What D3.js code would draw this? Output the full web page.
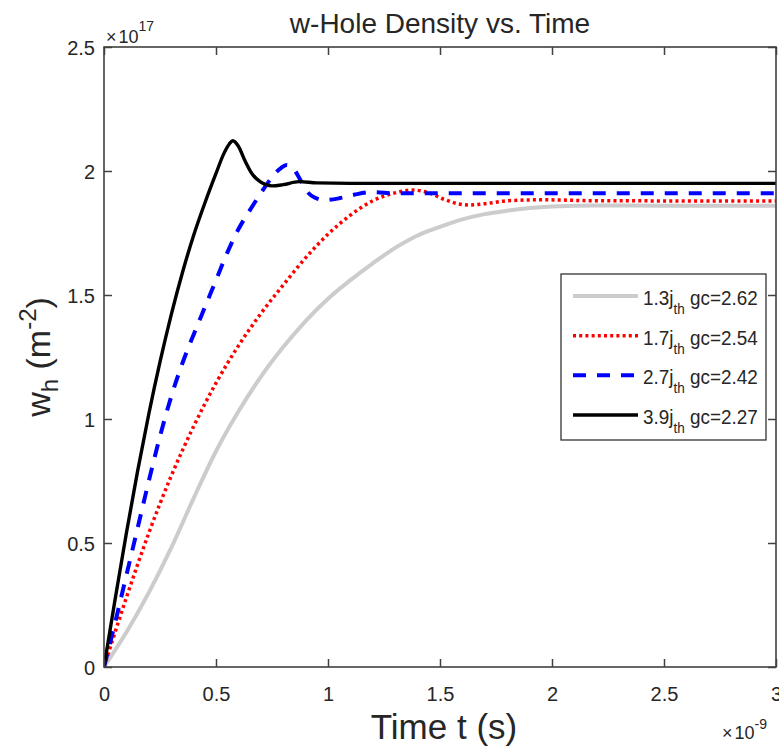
<!DOCTYPE html>
<html>
<head>
<meta charset="utf-8">
<script src="https://cdn.jsdelivr.net/npm/d3@7"></script>
<style>
  html, body { margin: 0; padding: 0; background: #fff; }
  svg { display: block; font-family: "Liberation Sans", Arial, Helvetica, sans-serif; }
</style>
</head>
<body>
<svg id="chart" width="779" height="752"></svg>
<script>
// ---- data (time in 1e-9 s, density in 1e17 m^-2) ----
const tGray = [0, 0.1, 0.2, 0.3, 0.4, 0.5, 0.6, 0.7, 0.8, 0.9, 1.0, 1.1, 1.2, 1.3, 1.4, 1.5, 1.6, 1.7, 1.8, 1.9, 2.0, 2.2, 2.5, 3];
const vGray = [0, 0.14, 0.3, 0.48, 0.68, 0.87, 1.03, 1.17, 1.29, 1.395, 1.485, 1.56, 1.628, 1.69, 1.74, 1.775, 1.805, 1.826, 1.84, 1.851, 1.857, 1.861, 1.86, 1.86];

const tRed = [0, 0.1, 0.2, 0.3, 0.4, 0.5, 0.6, 0.7, 0.8, 0.9, 1.0, 1.1, 1.2, 1.3, 1.38, 1.45, 1.52, 1.58, 1.63, 1.7, 1.8, 1.95, 2.2, 3];
const vRed = [0, 0.28, 0.54, 0.77, 0.97, 1.145, 1.295, 1.425, 1.54, 1.65, 1.745, 1.822, 1.88, 1.912, 1.923, 1.912, 1.885, 1.868, 1.863, 1.868, 1.88, 1.884, 1.88, 1.879];

const tBlue = [0, 0.05, 0.1, 0.15, 0.2, 0.25, 0.3, 0.35, 0.4, 0.45, 0.5, 0.55, 0.6, 0.65, 0.7, 0.75, 0.79, 0.815, 0.84, 0.87, 0.9, 0.94, 0.985, 1.05, 1.12, 1.2, 1.3, 1.6, 3];
const vBlue = [0, 0.18, 0.37, 0.56, 0.75, 0.93, 1.09, 1.225, 1.34, 1.45, 1.56, 1.67, 1.765, 1.84, 1.91, 1.975, 2.012, 2.024, 2.015, 1.975, 1.925, 1.893, 1.883, 1.89, 1.905, 1.915, 1.91, 1.91, 1.91];

const tBlack = [0, 0.05, 0.1, 0.15, 0.2, 0.25, 0.3, 0.35, 0.4, 0.45, 0.5, 0.535, 0.56, 0.575, 0.6, 0.63, 0.66, 0.7, 0.75, 0.8, 0.87, 0.95, 1.1, 1.5, 3];
const vBlack = [0, 0.275, 0.54, 0.79, 1.02, 1.23, 1.42, 1.59, 1.74, 1.87, 1.99, 2.07, 2.11, 2.122, 2.1, 2.04, 1.99, 1.955, 1.94, 1.945, 1.957, 1.952, 1.95, 1.95, 1.95];

const xTicks = [0, 0.5, 1, 1.5, 2, 2.5, 3];
const yTicks = [0, 0.5, 1, 1.5, 2, 2.5];

const legendMult = ["1.3", "1.7", "2.7", "3.9"];
const legendGc = ["2.62", "2.54", "2.42", "2.27"];

const titleText = "w-Hole Density vs. Time";
const xLabelText = "Time t (s)";

// ---- layout ----
const svg = d3.select("#chart");
const L = 104, T = 47, W = 672, H = 620;
const x = d3.scaleLinear().domain([0, 3]).range([L, L + W]);
const y = d3.scaleLinear().domain([0, 2.5]).range([T + H, T]);
const axisColor = "#404040", textColor = "#262626";

const series = [
  {t: tGray, v: vGray, color: "#cccccc", width: 4, dash: null},
  {t: tRed, v: vRed, color: "#ff0000", width: 3.5, dash: "3,3.2"},
  {t: tBlue, v: vBlue, color: "#0000ff", width: 4, dash: "13,11"},
  {t: tBlack, v: vBlack, color: "#000000", width: 3.4, dash: null}
];

svg.append("defs").append("clipPath").attr("id", "clip")
  .append("rect").attr("x", L).attr("y", T).attr("width", W).attr("height", H);

const line = d3.line().x(d => x(d[0])).y(d => y(d[1])).curve(d3.curveMonotoneX);
const gLines = svg.append("g").attr("clip-path", "url(#clip)");
series.forEach(s => {
  gLines.append("path")
    .attr("d", line(s.t.map((t, i) => [t, s.v[i]])))
    .attr("fill", "none").attr("stroke", s.color).attr("stroke-width", s.width)
    .attr("stroke-dasharray", s.dash).attr("stroke-linejoin", "round");
});

// ---- axes ----
const tick = 8;
const gx = svg.append("g").attr("transform", `translate(0,${T + H})`)
  .call(d3.axisBottom(x).tickValues(xTicks).tickFormat(d => String(d)).tickSizeInner(-tick).tickSizeOuter(0));
gx.selectAll("text").attr("y", 34).attr("dy", null).attr("font-size", 20).attr("fill", textColor).attr("font-family", null);
const gxt = svg.append("g").attr("transform", `translate(0,${T})`)
  .call(d3.axisTop(x).tickValues(xTicks).tickFormat("").tickSizeInner(-tick).tickSizeOuter(0));
const gy = svg.append("g").attr("transform", `translate(${L},0)`)
  .call(d3.axisLeft(y).tickValues(yTicks).tickFormat(d => String(d)).tickSizeInner(-tick).tickSizeOuter(0));
gy.selectAll("text").attr("x", -9).attr("dy", "0.36em").attr("font-size", 20).attr("fill", textColor).attr("font-family", null);
const gyr = svg.append("g").attr("transform", `translate(${L + W},0)`)
  .call(d3.axisRight(y).tickValues(yTicks).tickFormat("").tickSizeInner(-tick).tickSizeOuter(0));
[gx, gxt, gy, gyr].forEach(g => {
  g.select(".domain").remove();
  g.selectAll(".tick line").attr("stroke", axisColor).attr("stroke-width", 1.5);
});
svg.append("rect").attr("x", L).attr("y", T).attr("width", W).attr("height", H)
  .attr("fill", "none").attr("stroke", axisColor).attr("stroke-width", 1.6);

// exponent labels
const e1 = svg.append("text").attr("x", 106).attr("y", 43).attr("fill", textColor).attr("font-size", 18);
e1.append("tspan").text("\u00d7");
e1.append("tspan").attr("dx", 2).text("10");
e1.append("tspan").attr("dy", -12).attr("font-size", 14).text("17");
const e2 = svg.append("text").attr("x", 722).attr("y", 739).attr("fill", textColor).attr("font-size", 18);
e2.append("tspan").text("\u00d7");
e2.append("tspan").attr("dx", 2).text("10");
e2.append("tspan").attr("dy", -10).attr("font-size", 14).text("-9");

// title
svg.append("text").attr("x", L + W / 2).attr("y", 33).attr("text-anchor", "middle")
  .attr("font-size", 28).attr("fill", textColor).text(titleText);

// x label
svg.append("text").attr("x", L + W / 2 + 4).attr("y", 739).attr("text-anchor", "middle")
  .attr("font-size", 35).attr("fill", textColor).text(xLabelText);

// y label
const yl = svg.append("text").attr("transform", `translate(50,${T + H / 2}) rotate(-90)`)
  .attr("text-anchor", "middle").attr("font-size", 34).attr("fill", textColor);
yl.append("tspan").text("w");
yl.append("tspan").attr("dy", 8).attr("font-size", 24).text("h");
yl.append("tspan").attr("dy", -8).text(" (m");
yl.append("tspan").attr("dy", -14).attr("font-size", 24).text("-2");
yl.append("tspan").attr("dy", 14).text(")");

// ---- legend ----
const lgX = 561, lgY = 274, lgW = 205, lgH = 166;
svg.append("rect").attr("x", lgX).attr("y", lgY).attr("width", lgW).attr("height", lgH)
  .attr("fill", "#fff").attr("stroke", "#333").attr("stroke-width", 1.3);
const rowY = d3.scaleLinear().domain([0, 3]).range([296, 415]);
series.forEach((s, i) => {
  const cy = rowY(i);
  svg.append("line").attr("x1", 573).attr("x2", 638).attr("y1", cy).attr("y2", cy)
    .attr("stroke", s.color).attr("stroke-width", s.width).attr("stroke-dasharray", s.dash);
  const tx = svg.append("text").attr("transform", `translate(643,${cy + 9}) scale(0.9,1)`)
    .attr("font-size", 21).attr("fill", textColor);
  tx.append("tspan").text(legendMult[i] + "j");
  tx.append("tspan").attr("dy", 9).attr("font-size", 15).text("th");
  tx.append("tspan").attr("dy", -9).text(" gc=" + legendGc[i]);
});
</script>
</body>
</html>
